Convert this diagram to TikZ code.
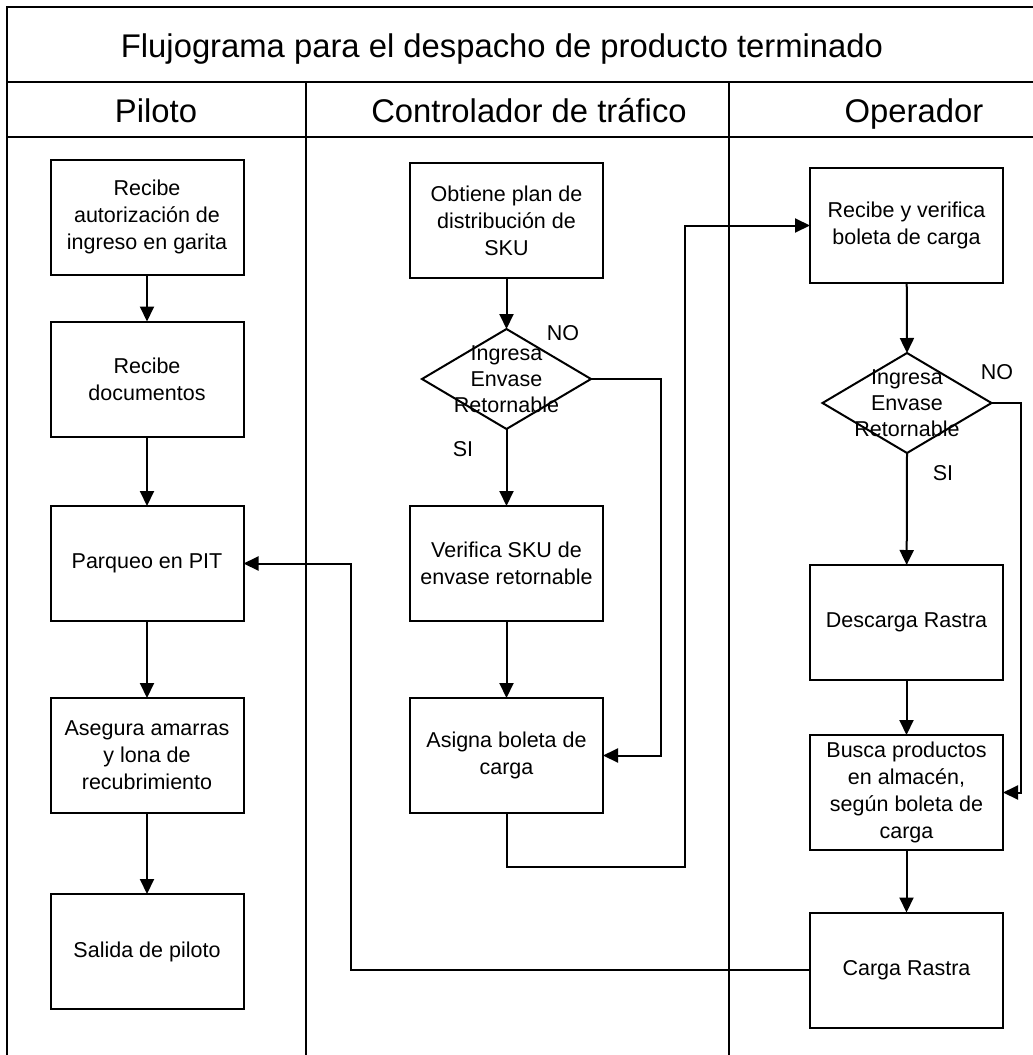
\documentclass[tikz,border=0pt]{standalone}
\usepackage{fontspec}
\setmainfont{Liberation Sans}
\usetikzlibrary{arrows.meta,shapes.geometric}

\begin{document}
\begin{tikzpicture}[x=1pt,y=-1pt,
  line width=2pt,
  stepbox/.style={draw,rectangle,minimum width=193pt,minimum height=115pt,
    inner sep=0pt,outer sep=0pt,align=center,font=\fontsize{21.5}{27}\selectfont},
  decision/.style={draw,diamond,minimum width=169pt,minimum height=100pt,
    inner sep=0pt,outer sep=0pt},
  dtext/.style={align=center,font=\fontsize{21.5}{26}\selectfont},
  headtext/.style={anchor=base,inner sep=0pt,font=\fontsize{32.8}{38}\selectfont},
  tag/.style={font=\fontsize{21.5}{26}\selectfont},
  arr/.style={-{Triangle[length=15pt,width=14pt]}},
]
\useasboundingbox (0,0) rectangle (1033,1055);

% swimlane frame
\draw (7,1055) -- (7,7) -- (1033,7);
\draw (7,82) -- (1033,82);
\draw (7,137) -- (1033,137);
\draw (306,82) -- (306,1055);
\draw (729,82) -- (729,1055);

\node[headtext] (title) at (502,57) {Flujograma para el despacho de producto terminado};
\node[headtext] (h1) at (156,122) {Piloto};
\node[headtext] (h2) at (529,122) {Controlador de tráfico};
\node[headtext] (h3) at (914,122) {Operador};

% Piloto
\node[stepbox] (b1) at (147,217) {Recibe\\autorización de\\ingreso en garita};
\node[stepbox] (b2) at (147,379) {Recibe\\documentos};
\node[stepbox] (b3) at (147,563.5) {Parqueo en PIT};
\node[stepbox] (b4) at (147,755.5) {Asegura amarras\\y lona de\\recubrimiento};
\node[stepbox] (b5) at (147,951.5) {Salida de piloto};

% Controlador de tráfico
\node[stepbox] (c1) at (506.5,220.5) {Obtiene plan de\\distribución de\\SKU};
\node[decision] (d1) at (506.5,379) {};
\node[dtext] (d1t) at (d1.center) {Ingresa\\Envase\\Retornable};
\node[stepbox] (c2) at (506.5,563.5) {Verifica SKU de\\envase retornable};
\node[stepbox] (c3) at (506.5,755.5) {Asigna boleta de\\carga};
\node[tag] (no1) at (563,333) {NO};
\node[tag] (si1) at (463,449) {SI};

% Operador
\node[stepbox] (o1) at (906.5,225.5) {Recibe y verifica\\boleta de carga};
\node[decision] (d2) at (907,403) {};
\node[dtext] (d2t) at (d2.center) {Ingresa\\Envase\\Retornable};
\node[stepbox] (o2) at (906.5,622.5) {Descarga Rastra};
\node[stepbox] (o3) at (906.5,792.5) {Busca productos\\en almacén,\\según boleta de\\carga};
\node[stepbox] (o4) at (906.5,970) {Carga Rastra};
\node[tag] (no2) at (997,372) {NO};
\node[tag] (si2) at (943,473) {SI};

% routing points
\coordinate (r1) at (685,867);
\coordinate (r2) at (350.7,970);

% connectors
\draw[arr] (b1) -- (b2);
\draw[arr] (b2) -- (b3);
\draw[arr] (b3) -- (b4);
\draw[arr] (b4) -- (b5);

\draw[arr] (c1) -- (d1.north);
\draw[arr] (d1.south) -- (c2);
\draw[arr] (c2) -- (c3);
\draw[arr] (d1.east) -- ++(70,0) |- (c3.east);
\draw[arr] (c3.south) |- (r1) |- (o1.west);

\draw[arr] (o1) -- (d2.north);
\draw[arr] (d2.south) -- (o2);
\draw[arr] (o2) -- (o3);
\draw[arr] (o3) -- (o4);
\draw[arr] (d2.east) -- ++(29,0) |- (o3.east);
\draw[arr] (o4.west) -- (r2) |- (b3.east);
\end{tikzpicture}
\end{document}
